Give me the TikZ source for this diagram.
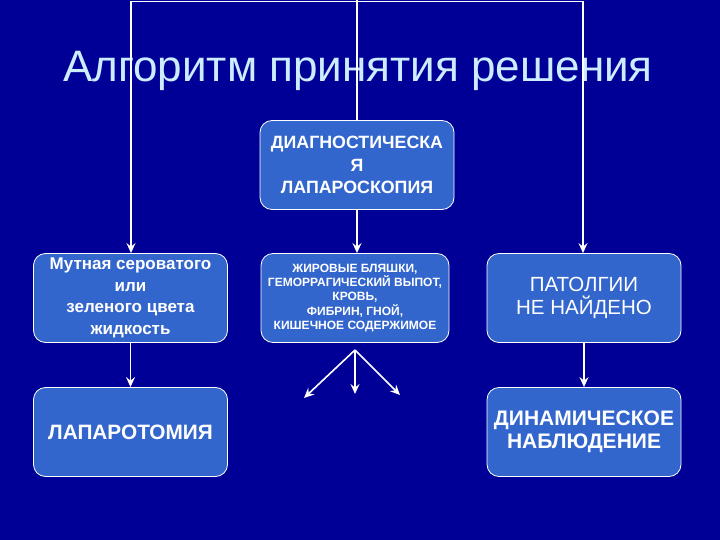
\documentclass[tikz,border=0pt]{standalone}
\usepackage{fontspec}
\setmainfont{Liberation Sans}
\usepackage{tikz}
\usetikzlibrary{arrows.meta}

\definecolor{navy}{RGB}{0,0,150}
\definecolor{boxblue}{RGB}{51,102,204}
\definecolor{titleblue}{RGB}{204,236,255}

\tikzset{
  box/.style={draw=white, line width=0.8pt, fill=boxblue, rounded corners=12pt,
    minimum width=194pt, minimum height=89pt, align=center, text=white, inner sep=2pt},
  link/.style={draw=white, line width=1.6pt, ->, >={Stealth[length=10pt,width=9pt,inset=3.5pt]}}
}

\begin{document}
\begin{tikzpicture}[x=1pt,y=-1pt]
      \fill[navy] (0,0) rectangle (720,540);
      \useasboundingbox (0,0) rectangle (720,540);

      \node (title) [anchor=base, text=titleblue, font=\fontsize{44}{48}\selectfont] at (358,82) {Алгоритм принятия решения};

      \node (diag) [box, font=\fontsize{17.8}{22.5}\selectfont\bfseries] at (357,165) {ДИАГНОСТИЧЕСКА\\Я\\ЛАПАРОСКОПИЯ};
      \node (cloudy) [box, font=\fontsize{17}{21.5}\selectfont\bfseries] at (130.5,298) {Мутная сероватого\\или\\зеленого цвета\\жидкость};
      \node (fat) [box, minimum width=188pt, font=\fontsize{12}{14.2}\selectfont\bfseries] at (355,298) {ЖИРОВЫЕ БЛЯШКИ,\\ГЕМОРРАГИЧЕСКИЙ ВЫПОТ,\\КРОВЬ,\\ФИБРИН, ГНОЙ,\\КИШЕЧНОЕ СОДЕРЖИМОЕ};
      \node (nopath) [box, font=\fontsize{20.5}{23.5}\selectfont] at (584,298) {ПАТОЛГИИ\\НЕ НАЙДЕНО};
      \node (lapar) [box, font=\fontsize{20.8}{24}\selectfont\bfseries] at (130.5,432) {ЛАПАРОТОМИЯ};
      \node (watch) [box, font=\fontsize{21}{22.5}\selectfont\bfseries] at (584,432) {ДИНАМИЧЕСКОЕ\\НАБЛЮДЕНИЕ};

      % top bar
      \coordinate (tl) at (131,1.5);
      \coordinate (tc) at (357,0);
      \coordinate (tr) at (583,1.5);
      \draw[white, line width=1.6pt] (tl) -- (tr);
      \draw[link] (tl) -- (tl |- cloudy.north);
      \draw[white, line width=1.6pt] (tc) -- (diag.north);
      \draw[link] (tr) -- (tr |- nopath.north);

      \draw[link] (diag.south) -- (diag.south |- fat.north);
      \draw[link] (cloudy.south) -- (lapar.north);
      \draw[link] (nopath.south) -- (watch.north);

      % three ways out
      \coordinate (split) at (355,350);
      \coordinate (outl) at (304,398);
      \coordinate (outc) at (355,394);
      \coordinate (outr) at (400,395);
      \draw[link] (split) -- (outl);
      \draw[link] (split) -- (outc);
      \draw[link] (split) -- (outr);

    \end{tikzpicture}
\end{document}
